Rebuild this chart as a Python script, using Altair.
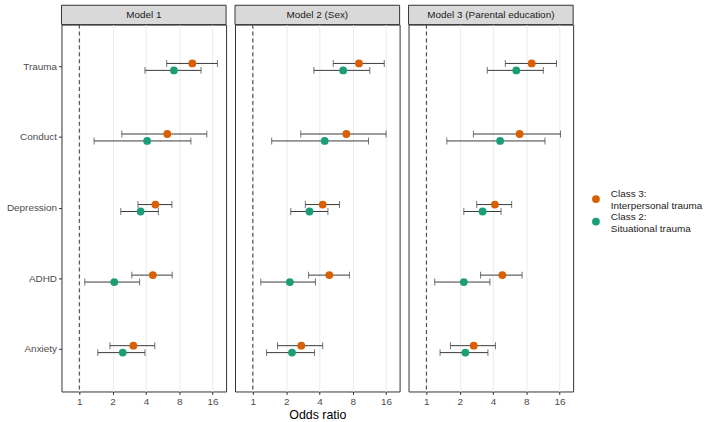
import altair as alt
import pandas as pd

# Outcomes (top to bottom) and model panels
outcomes = ["Trauma", "Conduct", "Depression", "ADHD", "Anxiety"]
models = ["Model 1", "Model 2 (Sex)", "Model 3 (Parental education)"]
classes = ["Class 3:\nInterpersonal trauma", "Class 2:\nSituational trauma"]
class_colors = ["#D95F02", "#1B9E77"]

# Odds ratios and 95% CI, Class 3 (interpersonal trauma) vs reference
c3_or = {
    "Model 1": [10.5, 6.24, 4.87, 4.62, 3.08],
    "Model 2 (Sex)": [9.1, 7.0, 4.28, 4.91, 2.74],
    "Model 3 (Parental education)": [8.95, 6.96, 4.16, 4.86, 2.68],
}
c3_lo = {
    "Model 1": [6.16, 2.42, 3.39, 2.98, 1.89],
    "Model 2 (Sex)": [5.33, 2.71, 2.98, 3.19, 1.67],
    "Model 3 (Parental education)": [5.17, 2.66, 2.85, 3.09, 1.65],
}
c3_hi = {
    "Model 1": [17.7, 14.2, 6.87, 6.91, 4.81],
    "Model 2 (Sex)": [15.4, 16.0, 6.07, 7.46, 4.28],
    "Model 3 (Parental education)": [15.0, 16.3, 5.9, 7.33, 4.21],
}

# Odds ratios and 95% CI, Class 2 (situational trauma) vs reference
c2_or = {
    "Model 1": [7.16, 4.1, 3.58, 2.07, 2.47],
    "Model 2 (Sex)": [6.55, 4.46, 3.25, 2.16, 2.26],
    "Model 3 (Parental education)": [6.49, 4.64, 3.22, 2.18, 2.25],
}
c2_lo = {
    "Model 1": [3.92, 1.36, 2.37, 1.12, 1.47],
    "Model 2 (Sex)": [3.56, 1.48, 2.2, 1.18, 1.33],
    "Model 3 (Parental education)": [3.55, 1.53, 2.18, 1.19, 1.33],
}
c2_hi = {
    "Model 1": [12.6, 10.2, 5.18, 3.51, 3.92],
    "Model 2 (Sex)": [11.4, 11.1, 4.77, 3.68, 3.61],
    "Model 3 (Parental education)": [11.4, 11.8, 4.73, 3.75, 3.6],
}

x_ticks = [1, 2, 4, 8, 16]

rows = []
for m in models:
    for cls, est, lo, hi in [
        (classes[0], c3_or, c3_lo, c3_hi),
        (classes[1], c2_or, c2_lo, c2_hi),
    ]:
        for i, o in enumerate(outcomes):
            rows.append({"model": m, "outcome": o, "cls": cls,
                         "or": est[m][i], "lo": lo[m][i], "hi": hi[m][i]})
df = pd.DataFrame(rows)

W, H = 166, 370
STRIP = 19.5
FONT = "Liberation Sans"
TXT = 10                # axis / strip / legend text size
BAND = H / 5.2          # one outcome row
DODGE = 7               # vertical gap between the two classes

x_scale = alt.Scale(type="log", base=2, domain=[0.69, 21.2], nice=False)
y_scale = alt.Scale(type="band", domain=outcomes, paddingInner=0, paddingOuter=0.1)
off_scale = alt.Scale(domain=classes, paddingInner=0, paddingOuter=0,
                      range=[BAND / 2 - DODGE, BAND / 2 + DODGE])
color_scale = alt.Scale(domain=classes, range=class_colors)


def panel(m, show_y, show_title):
    d = df[df["model"] == m]
    x_axis = alt.Axis(values=x_ticks, grid=True, gridColor="#EBEBEB", gridWidth=1,
                      domain=False, ticks=True, tickColor="#333333", tickSize=3,
                      labelColor="#4D4D4D", labelFontSize=TXT, labelPadding=2,
                      labelFont=FONT,
                      title="Odds ratio" if show_title else None,
                      titleFontSize=12.5, titleFont=FONT, titleFontWeight="normal",
                      titleColor="#000000", titlePadding=2)
    if show_y:
        y_axis = alt.Axis(title=None, domain=False, tickColor="#333333", tickSize=3,
                          labelColor="#4D4D4D", labelFontSize=TXT, labelPadding=2,
                          labelFont=FONT, minExtent=54, maxExtent=54)
    else:
        y_axis = None

    y = alt.Y("outcome:N", sort=outcomes, scale=y_scale, axis=y_axis)
    yo = alt.YOffset("cls:N", sort=classes, scale=off_scale)

    ref = alt.Chart(pd.DataFrame({"x": [1]})).mark_rule(
        color="#333333", strokeDash=[4, 3], strokeWidth=1
    ).encode(x=alt.X("x:Q", scale=x_scale, axis=x_axis))

    base = alt.Chart(d)
    bars = base.mark_rule(color="#3A3A3A", strokeWidth=1).encode(
        x=alt.X("lo:Q", scale=x_scale, axis=x_axis), x2="hi:Q", y=y, yOffset=yo)
    cap_lo = base.mark_tick(orient="vertical", size=7, thickness=1,
                            color="#3A3A3A").encode(
        x=alt.X("lo:Q", scale=x_scale), y=y, yOffset=yo)
    cap_hi = base.mark_tick(orient="vertical", size=7, thickness=1,
                            color="#3A3A3A").encode(
        x=alt.X("hi:Q", scale=x_scale), y=y, yOffset=yo)
    pts = base.mark_circle(size=62, opacity=1).encode(
        x=alt.X("or:Q", scale=x_scale),
        y=y, yOffset=yo,
        color=alt.Color("cls:N", scale=color_scale, sort=classes,
                        legend=alt.Legend(title=None, orient="none",
                                          legendX=534, legendY=171,
                                          labelExpr="split(datum.label, '\\n')",
                                          labelFontSize=TXT, labelFont=FONT,
                                          labelColor="#1A1A1A", labelBaseline="bottom",
                                          symbolSize=62,
                                          symbolType="circle", rowPadding=0.7,
                                          labelOffset=10, padding=0)),
    )

    strip_df = pd.DataFrame({"model": [m]})
    strip = alt.Chart(strip_df).mark_rect(
        fill="#D9D9D9", stroke="#333333", strokeWidth=1
    ).encode(x=alt.value(0), x2=alt.value(W), y=alt.value(-STRIP), y2=alt.value(0))
    strip_text = alt.Chart(strip_df).mark_text(
        fontSize=TXT, font=FONT, color="#1A1A1A", baseline="middle", align="center"
    ).encode(text="model:N", x=alt.value(W / 2), y=alt.value(-STRIP / 2))

    return alt.layer(ref, bars, cap_lo, cap_hi, pts, strip, strip_text).properties(
        width=W, height=H)


chart = alt.hconcat(
    panel(models[0], True, False),
    panel(models[1], False, True),
    panel(models[2], False, False),
    spacing=7,
).properties(
    padding={"left": 5, "top": 2, "right": 5, "bottom": 0},
    background="white",
).configure_view(
    stroke="#333333", strokeWidth=1
)

chart.save("out.html", embed_options={"renderer": "svg", "actions": False})
